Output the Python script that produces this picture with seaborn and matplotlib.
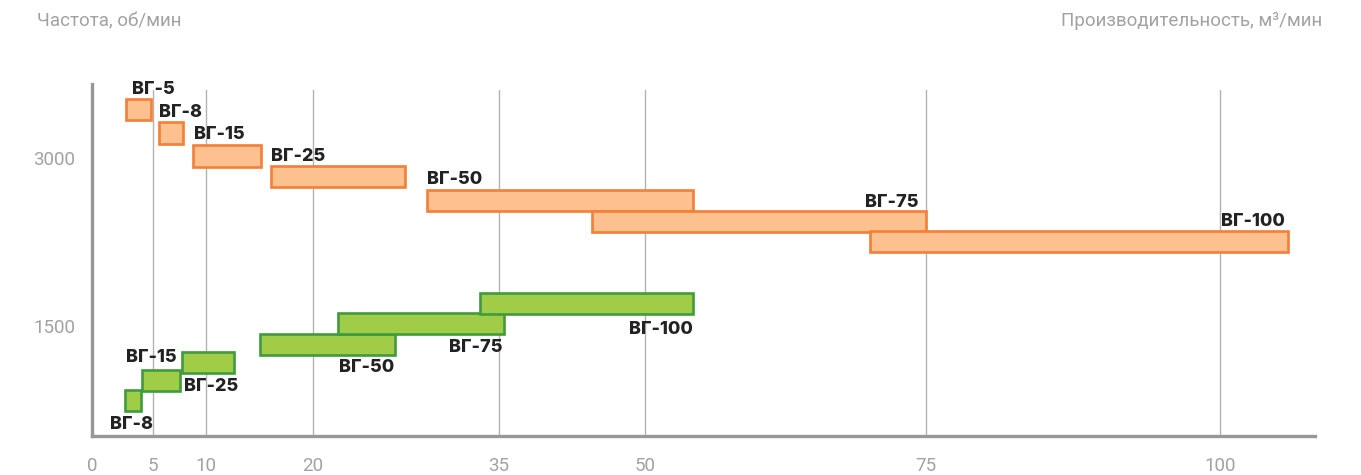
import numpy as np
import matplotlib
matplotlib.use("Agg")
import matplotlib.pyplot as plt
import seaborn as sns

# Blower models: productivity span (m³/min) and row level on the speed axis (rpm)
models_3000 = ["ВГ-5", "ВГ-8", "ВГ-15", "ВГ-25", "ВГ-50", "ВГ-75", "ВГ-100"]
q_min_3000 = [2.8, 5.6, 8.8, 16.1, 29.2, 44.6, 70.0]
q_max_3000 = [4.8, 7.8, 15.1, 27.4, 54.3, 75.0, 105.8]
rpm_3000 = [3429, 3223, 3018, 2833, 2623, 2437, 2257]

models_1500 = ["ВГ-8", "ВГ-15", "ВГ-25", "ВГ-50", "ВГ-75", "ВГ-100"]
q_min_1500 = [2.7, 4.1, 7.7, 15.0, 22.0, 33.5]
q_max_1500 = [4.0, 7.5, 12.6, 26.6, 35.5, 54.3]
rpm_1500 = [835, 1013, 1176, 1338, 1522, 1703]

x_ticks = [0, 5, 10, 20, 35, 50, 75, 100]
y_ticks = [1500, 3000]

# ---- styling -------------------------------------------------------------
sns.set_style("white")
plt.rcParams["font.family"] = ["Roboto", "DejaVu Sans"]

GREY_TXT = "#a2a2a2"
AXIS = "#979797"
GRID = "#b3b3b3"
LABEL = "#222222"
ORANGE_FILL, ORANGE_EDGE = "#fcc18f", "#f47f38"
GREEN_FILL, GREEN_EDGE = "#a0cc48", "#3f9b3c"
BAR_H = 188          # bar thickness in rpm units
PX = 0.72            # points per pixel at 100 dpi
LABEL_FONT = ["Inter", "DejaVu Sans"]

# label placement: (anchor, side, dx px, dy px)
place_3000 = [("left", "above", 6, 5), ("left", "above", 0, 5),
              ("left", "above", 1, 6.5), ("left", "above", 0, 5),
              ("left", "above", 0, 5.5), ("right", "above", -8, 4),
              ("right", "above", -3, 4.7)]
place_1500 = [("center", "below", -1, -18), ("right", "above", -3, 7.7),
              ("left", "below", 2, -18.3), ("right", "below", -1, -17.3),
              ("right", "below", -1.5, -18.4), ("right", "below", 0, -20)]

# printed scale of the productivity axis is not uniform: tick value -> ruler position
ruler_val = [-20, 0, 5, 10, 20, 35, 50, 75, 100, 140]
ruler_pos = [-152, 92, 153, 206, 313, 499, 645, 926, 1220, 1690.4]


def fwd(v):
    return np.interp(v, ruler_val, ruler_pos)


def inv(p):
    return np.interp(p, ruler_pos, ruler_val)


fig = plt.figure(figsize=(13.61, 4.75), dpi=100)
W, H = 1361, 475
ax = fig.add_axes([92 / W, (H - 436) / H, (1315 - 92) / W, (436 - 84) / H])
ax.set_xscale("function", functions=(fwd, inv))
ax.set_xlim(0, float(inv(1315)))
ax.set_ylim(517.9, 3660.7)

# vertical guides
for t in x_ticks[1:]:
    ax.axvline(t, ymin=0, ymax=(436 - 90) / (436 - 84), color=GRID, lw=1.0, zorder=1)


def draw_group(models, q0, q1, rpm, fill, edge, places):
    q0 = np.asarray(q0, float)
    q1 = np.asarray(q1, float)
    ax.barh(rpm, q1 - q0, left=q0, height=BAR_H, color=fill, edgecolor=edge,
            linewidth=1.9, zorder=3)
    for name, a, b, r, (anchor, side, dx, dy) in zip(models, q0, q1, rpm, places):
        x = {"left": a, "right": b, "center": (a + b) / 2}[anchor]
        y = r + BAR_H / 2 if side == "above" else r - BAR_H / 2
        ax.annotate(name, (x, y), xytext=(dx * PX, dy * PX), textcoords="offset points",
                    ha=anchor, va="baseline", fontsize=13, fontweight="heavy",
                    family=LABEL_FONT, color=LABEL, zorder=4)


draw_group(models_3000, q_min_3000, q_max_3000, rpm_3000, ORANGE_FILL, ORANGE_EDGE, place_3000)
draw_group(models_1500, q_min_1500, q_max_1500, rpm_1500, GREEN_FILL, GREEN_EDGE, place_1500)

# axes frame
sns.despine(ax=ax, top=True, right=True)
for s in ("left", "bottom"):
    ax.spines[s].set_color(AXIS)
    ax.spines[s].set_linewidth(2.4)
    ax.spines[s].set_zorder(5)

ax.set_xticks(x_ticks)
ax.set_xticklabels([str(t) for t in x_ticks])
ax.set_yticks(y_ticks)
ax.set_yticklabels([str(t) for t in y_ticks])
ax.tick_params(axis="x", length=0, pad=15, labelsize=13.5, labelcolor=GREY_TXT)
ax.tick_params(axis="y", length=0, pad=12, labelsize=13.5, labelcolor=GREY_TXT)
ax.grid(False)

fig.text(37 / W, 1 - 21 / H, "Частота, об/мин", ha="left", va="center",
         fontsize=13.5, color=GREY_TXT)
fig.text(1322 / W, 1 - 21 / H, "Производительность, м³/мин", ha="right", va="center",
         fontsize=13.5, color=GREY_TXT)

fig.savefig("out.png", dpi=100)
